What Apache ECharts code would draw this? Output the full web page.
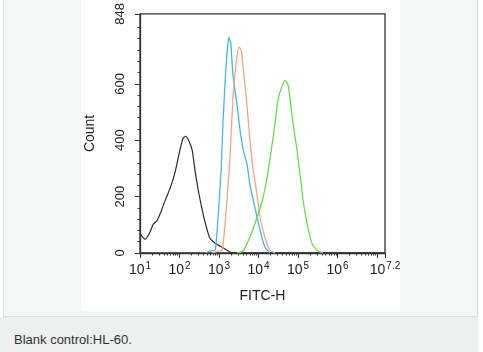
<!DOCTYPE html>
<html>
<head>
<meta charset="utf-8">
<script src="https://cdn.jsdelivr.net/npm/echarts@6/dist/echarts.min.js"></script>
<style>
  html, body { margin: 0; padding: 0; background: #fff; }
  #wrap { position: relative; width: 483px; height: 352px; overflow: hidden; font-family: "Liberation Sans", Arial, sans-serif; }
  #panel { position: absolute; left: 3px; top: -1px; width: 473px; height: 316px; background: #f5f6f6; border: 1px solid #dcdddd; }
  #img { position: absolute; left: 81px; top: 0; width: 319px; height: 311px; background: #fff; }
  #band { position: absolute; left: 0; top: 317px; width: 478px; height: 35px; background: #eeefef; }
  #caption { position: absolute; left: 14px; top: 332px; font-size: 13px; color: #333; }
  #chart { position: absolute; left: 0; top: 0; width: 483px; height: 352px; }
</style>
</head>
<body>
<div id="wrap">
  <div id="panel"></div>
  <div id="img"></div>
  <div id="band"></div>
  <div id="caption">Blank control:HL-60.</div>
  <div id="chart"></div>
</div>
<script>
// 数据 (x 为 log10(FITC-H))
//-------
var blankData = [
  [1.00, 69], [1.13, 49], [1.25, 73], [1.33, 101], [1.43, 115], [1.51, 139],
  [1.63, 184], [1.76, 229], [1.89, 288], [2.01, 365], [2.09, 407], [2.16, 414],
  [2.24, 396], [2.32, 365], [2.39, 295], [2.47, 226], [2.57, 156], [2.67, 97],
  [2.77, 52], [2.90, 35], [3.03, 24], [3.20, 10], [3.35, 0], [7.2, 0]
];
var blueData = [
  [2.65, 0], [2.77, 7], [2.90, 10], [2.97, 115], [3.05, 288], [3.10, 462],
  [3.15, 598], [3.20, 705], [3.25, 765], [3.30, 740], [3.35, 634], [3.46, 521],
  [3.53, 438], [3.61, 368], [3.71, 313], [3.78, 243], [3.91, 160], [4.04, 80],
  [4.16, 21], [4.29, 0]
];
var orangeData = [
  [2.82, 0], [2.97, 7], [3.08, 10], [3.13, 70], [3.20, 184], [3.28, 347],
  [3.35, 542], [3.43, 670], [3.51, 730], [3.56, 720], [3.61, 660], [3.71, 521],
  [3.78, 403], [3.86, 299], [3.96, 208], [4.04, 125], [4.16, 56], [4.29, 10],
  [4.42, 0]
];
var greenData = [
  [3.46, 0], [3.61, 7], [3.78, 56], [3.96, 125], [4.11, 195], [4.24, 288],
  [4.34, 382], [4.42, 462], [4.49, 542], [4.59, 590], [4.67, 612], [4.75, 595],
  [4.80, 542], [4.87, 462], [4.97, 368], [5.05, 278], [5.13, 184], [5.23, 104],
  [5.35, 35], [5.51, 7], [5.63, 0]
];
var xLabelValues = [1, 2, 3, 4, 5, 6, 7.2];
var xMajorTicks = [1, 2, 3, 4, 5, 6, 7, 7.2];
var yLabelValues = [0, 200, 400, 600, 848];
var yMinorTicks = [40, 80, 120, 160, 240, 280, 320, 360, 440, 480, 520, 560, 640, 680, 720, 760, 800];

// 对数次刻度
var xMinorTicks = [];
for (var d = 1; d < 8; d++) {
  for (var k = 2; k <= 9; k++) {
    var v = d + Math.log10(k);
    if (v < 7.2) xMinorTicks.push(v);
  }
}

var font = '"Liberation Sans", Arial, sans-serif';
var axisColor = '#333';

var myChart = echarts.init(document.getElementById('chart'));
var option = {
  backgroundColor: 'transparent',
  animation: false,
  grid: {
    left: 140, top: 9, right: 98, bottom: 99,
    show: true, borderColor: axisColor, borderWidth: 1.3, backgroundColor: 'transparent'
  },
  xAxis: [
    {
      type: 'value', min: 1, max: 7.2,
      name: 'FITC-H', nameLocation: 'middle', nameGap: 36,
      nameTextStyle: { fontFamily: font, fontSize: 14, color: '#222' },
      axisLine: { lineStyle: { color: axisColor, width: 1.3 } },
      axisTick: { customValues: xMajorTicks, length: 5, lineStyle: { color: axisColor } },
      splitLine: { show: false },
      axisLabel: {
        customValues: xLabelValues, margin: 8,
        formatter: function (v) {
          var e = Math.abs(v - 7.2) < 0.01 ? '7.2' : String(Math.round(v));
          return '{b|10}{s|' + e + '}';
        },
        rich: {
          b: { fontFamily: font, fontSize: 14, color: '#222' },
          s: { fontFamily: font, fontSize: 10, color: '#222', padding: [0, 0, 8, 1] }
        }
      }
    },
    {
      type: 'value', min: 1, max: 7.2, position: 'bottom',
      axisLine: { show: false },
      axisTick: { customValues: xMinorTicks, length: 2.5, lineStyle: { color: axisColor } },
      axisLabel: { show: false },
      splitLine: { show: false }
    }
  ],
  yAxis: [
    {
      type: 'value', min: 0, max: 848,
      name: 'Count', nameLocation: 'middle', nameGap: 43,
      nameTextStyle: { fontFamily: font, fontSize: 14, color: '#222' },
      axisLine: { show: true, lineStyle: { color: axisColor, width: 1.3 } },
      axisTick: { show: true, customValues: yLabelValues, length: 5, lineStyle: { color: axisColor } },
      splitLine: { show: false },
      axisLabel: {
        customValues: yLabelValues, rotate: 90, margin: 13,
        fontFamily: font, fontSize: 13, color: '#222'
      }
    },
    {
      type: 'value', min: 0, max: 848, position: 'left',
      axisLine: { show: false },
      axisTick: { show: true, customValues: yMinorTicks, length: 2.5, lineStyle: { color: axisColor } },
      axisLabel: { show: false },
      splitLine: { show: false }
    }
  ],
  series: [
    { name: 'blank', type: 'line', data: blankData, showSymbol: false, smooth: 0.2, lineStyle: { color: '#2a2a2a', width: 1.2 } },
    { name: 'blue', type: 'line', data: blueData, showSymbol: false, smooth: 0.2, lineStyle: { color: '#45b5e2', width: 1.3 } },
    { name: 'orange', type: 'line', data: orangeData, showSymbol: false, smooth: 0.2, lineStyle: { color: '#efa883', width: 1.3 } },
    { name: 'green', type: 'line', data: greenData, showSymbol: false, smooth: 0.2, lineStyle: { color: '#6bdb55', width: 1.3 } }
  ]
};
myChart.setOption(option);
</script>
</body>
</html>
